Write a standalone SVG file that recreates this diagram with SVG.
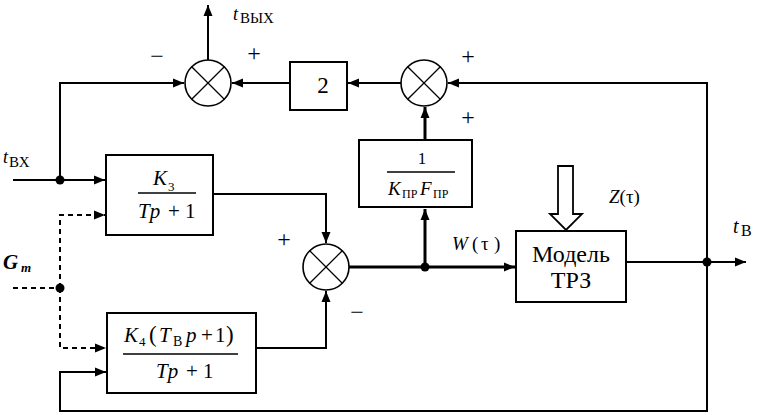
<svg xmlns="http://www.w3.org/2000/svg" width="758" height="415" viewBox="0 0 758 415" font-family="'Liberation Serif', 'DejaVu Serif', serif">
<style>
.ln{fill:none;stroke:#000;stroke-width:2}
.thk{fill:none;stroke:#000;stroke-width:3}
.dsh{fill:none;stroke:#000;stroke-width:2;stroke-dasharray:5,4}
.box{fill:#fff;stroke:#000;stroke-width:2}
.sum{fill:#fff;stroke:#000;stroke-width:1.6}
.x{stroke:#000;stroke-width:1.3}
.frac{stroke:#000;stroke-width:1.6}
.it{font-style:italic}
.sg{font-size:24px;text-anchor:middle}
</style>
<defs>
<marker id="ar" markerUnits="userSpaceOnUse" markerWidth="12" markerHeight="10" refX="11" refY="5" orient="auto">
<path d="M0,0.5 L11,5 L0,9.5 Z" fill="#000"/>
</marker>
</defs>
<rect width="758" height="415" fill="#fff"/>

<g id="connectors">
<path class="ln" d="M208,60 V5" marker-end="url(#ar)"/>
<path class="ln" d="M60,180 V83 H184" marker-end="url(#ar)"/>
<path class="ln" d="M290,83 H232" marker-end="url(#ar)"/>
<path class="ln" d="M401,83 H348" marker-end="url(#ar)"/>
<path class="ln" d="M707,262 V83 H448" marker-end="url(#ar)"/>
<path class="ln" d="M707,262 V411 H60 V372 H106" marker-end="url(#ar)"/>
<path class="ln" d="M13,180 H105" marker-end="url(#ar)"/>
<path class="dsh" d="M13,288 H60"/>
<path class="dsh" d="M60,288 V215 H105" marker-end="url(#ar)"/>
<path class="dsh" d="M60,288 V348 H106" marker-end="url(#ar)"/>
<path class="ln" d="M213,194 H326 V243" marker-end="url(#ar)"/>
<path class="ln" d="M257,348 H326 V291" marker-end="url(#ar)"/>
<path class="thk" d="M349,267 H515" marker-end="url(#ar)"/>
<path class="thk" d="M425,267 V209" marker-end="url(#ar)"/>
<path class="thk" d="M425,139 V107" marker-end="url(#ar)"/>
<path class="ln" d="M626,262 H746" marker-end="url(#ar)"/>
<circle cx="60" cy="180" r="4.5" fill="#000"/>
<circle cx="60" cy="288" r="4.5" fill="#000"/>
<circle cx="425" cy="267" r="4.5" fill="#000"/>
<circle cx="707" cy="262" r="4.5" fill="#000"/>
<polygon points="558,166 573,166 573,214 582,214 566,230 550,214 558,214" fill="#fff" stroke="#000" stroke-width="1.8"/>
</g>

<g id="sum1">
<circle class="sum" cx="208" cy="83" r="23"/>
<path class="x" d="M191.7,66.7 L224.3,99.3 M224.3,66.7 L191.7,99.3"/>
<text class="sg" x="157" y="64">−</text>
<text class="sg" x="254" y="61">+</text>
</g>
<g id="sum2">
<circle class="sum" cx="424" cy="83" r="23"/>
<path class="x" d="M407.7,66.7 L440.3,99.3 M440.3,66.7 L407.7,99.3"/>
<text class="sg" x="468" y="64">+</text>
<text class="sg" x="468" y="125">+</text>
</g>
<g id="sum3">
<circle class="sum" cx="326" cy="267" r="23"/>
<path class="x" d="M309.7,250.7 L342.3,283.3 M342.3,250.7 L309.7,283.3"/>
<text class="sg" x="284" y="247">+</text>
<text class="sg" x="357" y="320">−</text>
</g>

<g id="box2">
<rect class="box" x="290" y="62" width="57" height="48"/>
<text x="323" y="93" font-size="23" text-anchor="middle">2</text>
</g>

<g id="boxKF">
<rect class="box" x="359" y="140" width="113" height="67"/>
<text x="422" y="164" font-size="17" text-anchor="middle">1</text>
<line class="frac" x1="387" y1="172" x2="455" y2="172"/>
<text y="195" font-size="19"><tspan class="it" x="388">K</tspan><tspan x="402" y="198" font-size="12">ПР</tspan><tspan class="it" x="420" y="195">F</tspan><tspan x="433" y="198" font-size="12">ПР</tspan></text>
</g>

<g id="boxK3">
<rect class="box" x="106" y="155" width="107" height="80"/>
<text class="it" x="153" y="185" font-size="21">K<tspan font-style="normal" font-size="13" y="191" dx="1">3</tspan></text>
<line class="frac" x1="138" y1="193" x2="196" y2="193"/>
<text y="218" font-size="21"><tspan class="it" x="138">Tp</tspan><tspan x="168">+</tspan><tspan x="185">1</tspan></text>
</g>

<g id="boxK4">
<rect class="box" x="107" y="313" width="149" height="80"/>
<text y="342" font-size="21"><tspan class="it" x="124">K</tspan><tspan x="139" y="346" font-size="13">4</tspan><tspan x="149" y="342" font-size="23">(</tspan><tspan class="it" x="159" y="342">T</tspan><tspan x="173" y="346" font-size="14">В</tspan><tspan class="it" x="186" y="342">p</tspan><tspan x="201" y="342">+</tspan><tspan x="215" y="342">1</tspan><tspan x="226" y="342" font-size="23">)</tspan></text>
<line class="frac" x1="123" y1="354" x2="238" y2="354"/>
<text y="378" font-size="21"><tspan class="it" x="156">Tp</tspan><tspan x="186">+</tspan><tspan x="203">1</tspan></text>
</g>

<g id="model">
<rect class="box" x="516" y="231" width="110" height="71"/>
<text x="571" y="262" font-size="24" text-anchor="middle">Модель</text>
<text x="571" y="288" font-size="24" text-anchor="middle">ТРЗ</text>
</g>

<g id="labels">
<text x="233" y="20" font-size="18" class="it">t</text>
<text x="240" y="23" font-size="15">ВЫХ</text>
<text x="3" y="163" font-size="18" class="it">t</text>
<text x="9" y="167" font-size="15">ВХ</text>
<text x="3" y="269" font-size="21" class="it" font-weight="bold">G</text>
<text x="21" y="272" font-size="13" class="it" font-weight="bold">m</text>
<text x="733" y="233" font-size="20" class="it">t</text>
<text x="741" y="236" font-size="16">В</text>
<text x="609" y="203" font-size="19"><tspan class="it">Z</tspan>(τ)</text>
<text y="250" font-size="19"><tspan class="it" x="452">W</tspan><tspan x="472">(</tspan><tspan x="481">τ</tspan><tspan x="494">)</tspan></text>
</g>
</svg>
